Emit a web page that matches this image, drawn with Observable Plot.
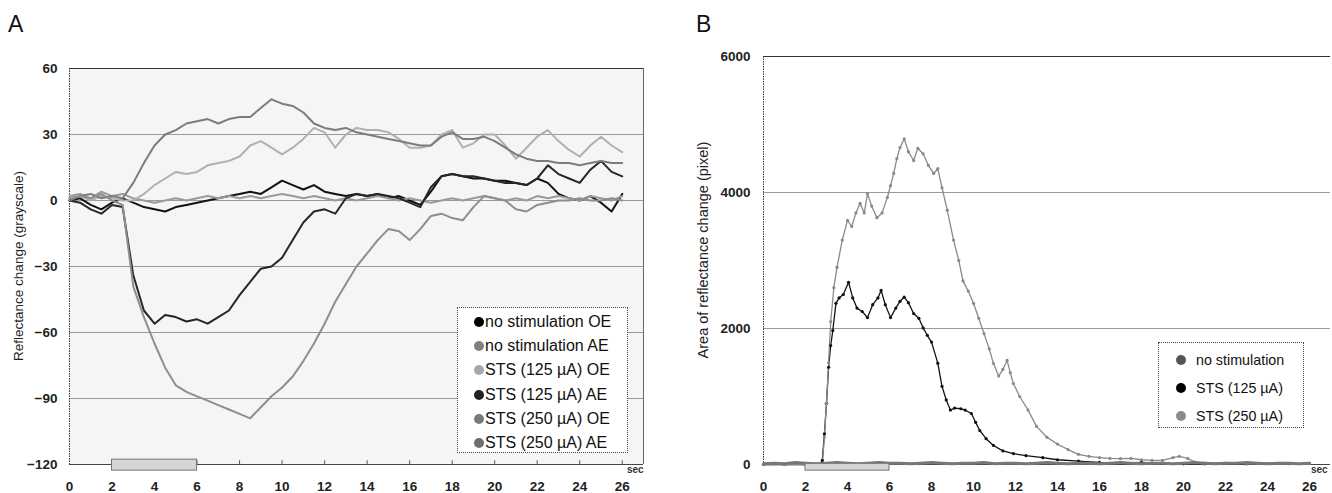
<!DOCTYPE html>
<html><head><meta charset="utf-8">
<script src="https://cdn.jsdelivr.net/npm/d3@7"></script>
<script src="https://cdn.jsdelivr.net/npm/@observablehq/plot@0.6"></script>
<style>
body{margin:0;background:#fff;font-family:"Liberation Sans",Arial,sans-serif;}
#wrap{position:relative;width:1332px;height:493px;overflow:hidden;background:#fff}
.panel{position:absolute;top:0}
.plbl{position:absolute;font-size:23px;color:#111;line-height:1}
.ylab{position:absolute;white-space:nowrap;color:#222;transform:translate(-50%,-50%) rotate(-90deg)}
.sec{position:absolute;font-size:10px;font-weight:bold;color:#333}
.legend{position:absolute;border:1px dotted #444;background:#fff;box-sizing:border-box}
.row{position:absolute;left:0;display:flex;align-items:center;color:#111;white-space:nowrap;transform:translateY(-50%)}
.sw{width:10px;height:10px;border-radius:50%;flex:none}
</style></head>
<body><div id="wrap"></div>
<script>
// ---------- shared ----------
const xTicks = [0,2,4,6,8,10,12,14,16,18,20,22,24,26];
const stimulus = [{start: 2, end: 6}];

// ---------- Panel A ----------
const yTicksA = [-120,-90,-60,-30,0,30,60];
const timeA = [0,0.5,1,1.5,2,2.5,3,3.5,4,4.5,5,5.5,6,6.5,7,7.5,8,8.5,9,9.5,10,10.5,11,11.5,12,12.5,13,13.5,14,14.5,15,15.5,16,16.5,17,17.5,18,18.5,19,19.5,20,20.5,21,21.5,22,22.5,23,23.5,24,24.5,25,25.5,26];
const seriesA = ["no stimulation OE","no stimulation AE","STS (125 µA) OE","STS (125 µA) AE","STS (250 µA) OE","STS (250 µA) AE"];
const noStimOE = [0,1,-2,-4,-1,1,-1,-3,-4,-5,-3,-2,-1,0,1,2,3,4,3,6,9,7,5,7,4,3,2,3,2,3,1,2,0,-2,4,11,12,11,10,10,9,9,8,7,10,8,3,1,0,2,-1,-5,3];
const noStimAE = [2,3,1,4,2,3,1,0,-1,0,1,0,1,2,1,2,1,2,1,2,3,2,1,2,1,0,1,0,1,2,1,0,1,0,-1,0,1,0,1,2,1,0,1,0,2,1,2,1,0,2,1,0,2];
const sts125OE = [1,2,0,2,1,0,0,3,7,10,13,12,13,16,17,18,20,25,27,24,21,24,28,33,31,24,30,33,32,32,31,28,24,24,25,30,32,24,26,30,30,25,19,24,29,32,27,23,20,25,29,25,22];
const sts125AE = [0,-1,-4,-6,-2,-3,-34,-50,-56,-52,-53,-55,-54,-56,-53,-50,-43,-37,-31,-30,-26,-18,-10,-5,-4,-6,1,3,2,3,2,1,-1,-3,6,11,12,11,11,10,9,8,8,7,10,16,12,10,8,14,18,13,11];
const sts250OE = [0,2,3,1,2,1,8,17,25,30,32,35,36,37,35,37,38,38,42,46,44,43,40,35,33,32,33,31,30,29,28,27,26,25,25,29,31,28,28,29,27,24,21,19,18,18,17,17,16,17,18,17,17];
const sts250AE = [1,2,1,3,0,-2,-39,-53,-65,-76,-84,-87,-89,-91,-93,-95,-97,-99,-94,-89,-85,-80,-73,-65,-56,-46,-38,-30,-24,-18,-13,-14,-18,-13,-7,-6,-8,-9,-3,2,1,0,-4,-5,-2,-1,0,0,1,0,0,1,0];
const colorsA = ["#111111","#9a9a9a","#b0b0b0","#262626","#7c7c7c","#8e8e8e"];

// ---------- Panel B ----------
const yTicksB = [0,2000,4000,6000];
const seriesB = ["no stimulation","STS (125 µA)","STS (250 µA)"];
const timeB0 = timeA;
const noStimB = [10,20,10,30,20,10,20,30,20,10,20,30,20,20,10,20,30,20,10,20,20,30,10,20,20,10,20,30,20,10,20,20,10,20,30,20,10,20,20,10,20,30,20,10,20,20,30,20,10,20,20,10,20];
const timeB125 = [0,1,2,2.7,2.8,2.9,3.0,3.1,3.2,3.3,3.45,3.6,3.8,4.05,4.25,4.45,4.7,4.95,5.2,5.45,5.6,5.8,6.05,6.3,6.5,6.7,6.9,7.15,7.4,7.6,7.8,8.0,8.3,8.5,8.7,8.9,9.1,9.4,9.6,9.9,10.1,10.3,10.6,10.95,11.4,11.9,12.5,13.3,14,15,16,17,18,19,20,21,22,23];
const sts125B = [0,0,0,0,60,450,900,1430,1750,1970,2370,2450,2500,2680,2450,2300,2250,2160,2350,2450,2560,2350,2160,2300,2400,2460,2380,2220,2150,2010,1900,1800,1490,1150,950,800,830,820,800,750,620,500,380,280,200,160,130,100,70,50,30,20,30,15,10,10,15,10];
const timeB250 = [0,1,2,2.8,2.9,3.0,3.1,3.2,3.35,3.5,3.75,4,4.2,4.4,4.6,4.8,4.95,5.15,5.4,5.65,5.9,6.05,6.2,6.35,6.5,6.7,6.9,7.15,7.35,7.6,7.85,8.1,8.3,8.5,8.75,9.05,9.3,9.5,9.75,10,10.25,10.5,10.75,10.95,11.2,11.4,11.6,11.75,11.9,12.2,12.6,13,13.5,14,14.5,15,15.5,16,16.5,17,17.5,18,18.5,19,19.5,19.8,20.2,20.5,21,22,23,24,25,26];
const sts250B = [0,0,0,0,400,900,1500,2100,2600,2900,3300,3590,3500,3700,3840,3700,3985,3800,3630,3700,3930,4100,4280,4500,4660,4790,4600,4470,4650,4570,4400,4280,4350,4070,3740,3300,3000,2700,2550,2370,2150,1925,1700,1485,1300,1400,1530,1350,1190,1000,800,560,400,300,220,150,120,100,90,85,90,70,60,60,100,120,90,40,20,20,15,15,10,15];
const colorsB = ["#555555","#111111","#8a8a8a"];

// ---------- build tables ----------
const valsA = [noStimOE,noStimAE,sts125OE,sts125AE,sts250OE,sts250AE];
const dataA = [];
seriesA.forEach((s,i)=>{ valsA[i].forEach((v,j)=>{ if (j < timeA.length) dataA.push({t: timeA[j], v, s}); }); });
const dataB = [];
const tB = [timeB0,timeB125,timeB250], vB = [noStimB,sts125B,sts250B];
seriesB.forEach((s,i)=>{ vB[i].forEach((v,j)=>{ if (j < tB[i].length) dataB.push({t: tB[i][j], v, s}); }); });

const font = {fontFamily: "'Liberation Sans', Arial, sans-serif", fontSize: "13.5px", fontWeight: "bold", color: "#222", background: "transparent", overflow: "visible"};

const plotA = Plot.plot({
  width: 666, height: 493,
  marginLeft: 69, marginRight: 23, marginTop: 68, marginBottom: 29,
  style: font,
  x: {domain: [0, 27]},
  y: {domain: [-120, 60]},
  color: {domain: seriesA, range: colorsA},
  marks: [
    Plot.frame({fill: "#f5f5f5", stroke: null}),
    Plot.ruleY(yTicksA.filter(d => d > -120 && d < 60), {stroke: "#9a9a9a", strokeWidth: 1}),
    Plot.ruleY([60], {stroke: "#333", strokeWidth: 1.2}),
    Plot.ruleX([0], {stroke: "#333", strokeDasharray: "1.5,1"}),
    Plot.ruleX([27], {stroke: "#666"}),
    Plot.line(dataA, {x: "t", y: "v", z: "s", stroke: "s", strokeWidth: 2, curve: "linear"}),
    Plot.ruleY([-120], {stroke: "#444", strokeWidth: 1.2}),
    Plot.ruleX(xTicks.slice(1), {y1: -120, y2: -118.3, stroke: "#555"}),
    Plot.rect(stimulus, {x1: "start", x2: "end", y1: -122.8, y2: -117.8, fill: "#d6d6d6", stroke: "#777"}),
    Plot.axisX({ticks: xTicks, tickSize: 0, tickPadding: 17, label: null}),
    Plot.axisY({ticks: yTicksA, tickSize: 0, tickPadding: 12, label: null})
  ]
});

const plotB = Plot.plot({
  width: 666, height: 493,
  marginLeft: 97, marginRight: 2, marginTop: 56, marginBottom: 29,
  style: font,
  x: {domain: [0, 27]},
  y: {domain: [0, 6000]},
  color: {domain: seriesB, range: colorsB},
  marks: [
    Plot.ruleY([2000, 4000], {stroke: "#9a9a9a", strokeWidth: 1}),
    Plot.ruleY([6000], {stroke: "#333", strokeWidth: 1.2}),
    Plot.ruleX([0], {stroke: "#333", strokeDasharray: "1.5,1"}),
    Plot.ruleY([0], {stroke: "#444", strokeWidth: 1.2}),
    Plot.line(dataB, {x: "t", y: "v", z: "s", stroke: "s", strokeWidth: 1.3}),
    Plot.dot(dataB.filter(d => d.s !== "no stimulation"), {x: "t", y: "v", fill: "s", r: 1.6}),
    Plot.line(dataB.filter(d => d.s === "no stimulation"), {x: "t", y: "v", stroke: "#777", strokeWidth: 3}),
    Plot.rect(stimulus, {x1: "start", x2: "end", y1: -90, y2: 10, fill: "#d6d6d6", stroke: "#777"}),
    Plot.axisX({ticks: xTicks, tickSize: 0, tickPadding: 17, label: null}),
    Plot.axisY({ticks: yTicksB, tickSize: 0, tickPadding: 13, label: null, tickFormat: d => String(d)})
  ]
});

const wrap = document.getElementById("wrap");
plotA.classList.add("panel"); plotA.style.left = "0px";
plotB.classList.add("panel"); plotB.style.left = "666px";
wrap.appendChild(plotA); wrap.appendChild(plotB);

function addDiv(cls, text, css) {
  const d = document.createElement("div");
  d.className = cls; d.textContent = text;
  Object.assign(d.style, css);
  wrap.appendChild(d); return d;
}
addDiv("plbl", "A", {left: "8px", top: "13px"});
addDiv("plbl", "B", {left: "696px", top: "13px"});
addDiv("ylab", "Reflectance change (grayscale)", {left: "18px", top: "266px", fontSize: "13.5px"});
addDiv("ylab", "Area of reflectance change (pixel)", {left: "703px", top: "250px", fontSize: "14.5px"});
addDiv("sec", "sec", {left: "627px", top: "464px"});
addDiv("sec", "sec", {left: "1311px", top: "464px"});

// legends
function legend(items, colors, box, rowY, swX, gap, fs) {
  const lg = document.createElement("div");
  lg.className = "legend";
  Object.assign(lg.style, box);
  items.forEach((s, i) => {
    const r = document.createElement("div");
    r.className = "row";
    r.style.top = rowY[i] + "px";
    r.style.left = swX + "px";
    r.style.fontSize = fs;
    const sw = document.createElement("span");
    sw.className = "sw"; sw.style.background = colors[i]; sw.style.marginRight = gap + "px";
    const tx = document.createElement("span"); tx.textContent = s;
    r.appendChild(sw); r.appendChild(tx);
    lg.appendChild(r);
  });
  wrap.appendChild(lg);
}
const legendColorsA = ["#000000","#808080","#a8a8a8","#222222","#7a7a7a","#6e6e6e"];
legend(seriesA, legendColorsA, {left: "457px", top: "307px", width: "171px", height: "146px"}, [14, 38, 62, 87, 111, 135], 16, 1, "16px");
legend(seriesB, ["#555555","#000000","#8a8a8a"], {left: "1158px", top: "342px", width: "146px", height: "86px"}, [17, 45, 73], 17, 10, "14.3px");
</script></body></html>
